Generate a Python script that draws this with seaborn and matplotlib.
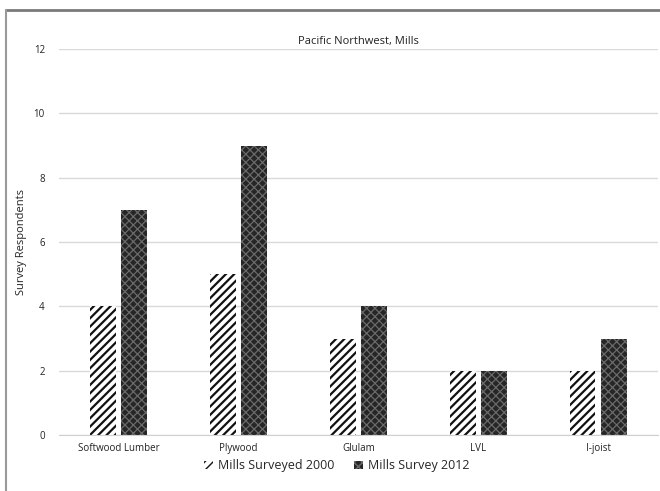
import matplotlib
matplotlib.use("Agg")
import matplotlib.pyplot as plt
from matplotlib.lines import Line2D
import seaborn as sns
import pandas as pd

categories = ["Softwood Lumber", "Plywood", "Glulam", "LVL", "I-joist"]
mills_2000 = [4, 5, 3, 2, 2]
mills_2012 = [7, 9, 4, 2, 3]
series_names = ["Mills Surveyed 2000", "Mills Survey 2012"]
y_ticks = [0, 2, 4, 6, 8, 10, 12]

df = pd.DataFrame({
    "Product": categories * 2,
    "Respondents": mills_2000 + mills_2012,
    "Series": [series_names[0]] * len(categories) + [series_names[1]] * len(categories),
})

sns.set_style("white")
plt.rcParams["font.family"] = ["Open Sans", "DejaVu Sans"]

fig = plt.figure(figsize=(6.6, 4.91), dpi=100)
ax = fig.add_axes([0.089, 0.114, 0.908, 0.786])

sns.barplot(data=df, x="Product", y="Respondents", hue="Series",
            hue_order=series_names, order=categories, ax=ax,
            width=0.52, gap=0.17, legend=False,
            palette=["white", "#262626"])

# (face colour, hatch colour, hatch pattern, hatch line width)
styles = [("white", "#111111", "////", 1.6), ("#262626", "#6a6a6a", "xxxx", 0.9)]
for container, (fc, ec, hatch, hlw) in zip(ax.containers, styles):
    for bar in container:
        bar.set_facecolor(fc)
        bar.set_edgecolor(ec)
        bar.set_hatch(hatch)
        bar.set_hatch_linewidth(hlw)
        bar.set_linewidth(0)

ax.set_ylim(0, 12)
ax.set_yticks(y_ticks)
ax.set_xlim(-0.5, len(categories) - 0.5)
ax.grid(axis="y", color="#d9d9d9", linewidth=1)
ax.set_axisbelow(True)
for side in ["top", "right", "left"]:
    ax.spines[side].set_visible(False)
ax.spines["bottom"].set_color("#d0d0d0")
ax.tick_params(axis="y", length=0, labelsize=7, colors="#222222", pad=10)
ax.tick_params(axis="x", length=0, labelsize=7, colors="#222222", pad=6)
ax.set_xlabel("")
ax.set_ylabel("Survey Respondents", fontsize=8, color="#222222", labelpad=5)
ax.text(0.5, 1.005, "Pacific Northwest, Mills", transform=ax.transAxes,
        ha="center", va="bottom", fontsize=8, color="#222222")

handles = []
for fc, ec, hatch, hlw in styles:
    h = plt.Rectangle((0, 0), 1, 1, facecolor=fc, edgecolor=ec, hatch=hatch, linewidth=0)
    h.set_hatch_linewidth(hlw)
    handles.append(h)
fig.legend(handles, series_names, loc="center", bbox_to_anchor=(0.51, 0.051),
           ncol=2, frameon=False, fontsize=9, handlelength=0.7, handleheight=0.7,
           handletextpad=0.4, columnspacing=1.6)

# page frame lines along the top and left
fig.add_artist(Line2D([6 / 660, 1.0], [1 - 10 / 491, 1 - 10 / 491],
                      transform=fig.transFigure, color="#7a7a7a", linewidth=2))
fig.add_artist(Line2D([6 / 660, 6 / 660], [0, 1 - 10 / 491],
                      transform=fig.transFigure, color="#9a9a9a", linewidth=1.5))

fig.savefig("out.png", dpi=100)
